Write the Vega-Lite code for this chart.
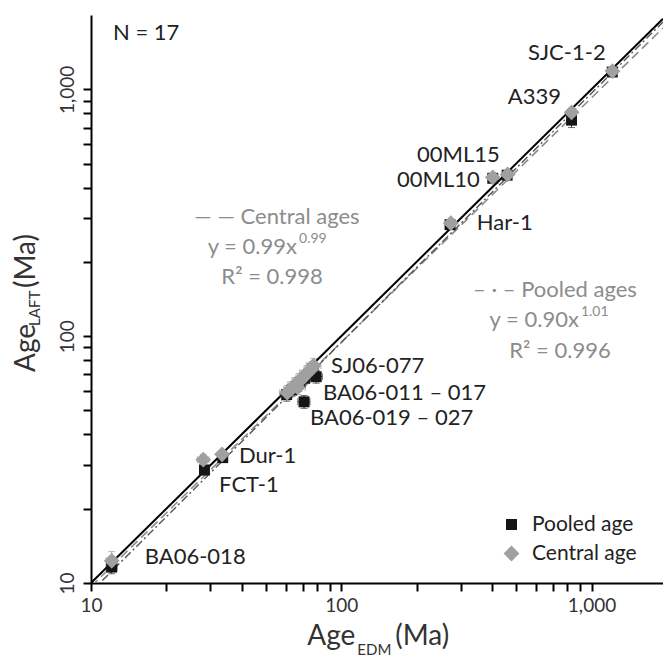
{
  "$schema": "https://vega.github.io/schema/vega-lite/v6.json",
  "width": 572,
  "height": 568,
  "autosize": {"type": "none"},
  "padding": {"left": 91, "top": 15, "right": 0, "bottom": 76},
  "background": "white",
  "config": {
    "view": {"stroke": null},
    "font": "Lato",
    "text": {"font": "Lato"},
    "axisLeft": {"labelAngle": 270}
  },
  "datasets": {
    "pts": [
      {"sample": "BA06-018", "type": "Pooled age", "edm": 12.1, "laft": 11.6, "edm_lo": 11.5, "edm_hi": 12.7, "laft_lo": 10.9, "laft_hi": 12.4},
      {"sample": "FCT-1", "type": "Pooled age", "edm": 28.4, "laft": 28.7, "edm_lo": 27.3, "edm_hi": 29.5, "laft_lo": 27.4, "laft_hi": 30.0},
      {"sample": "Dur-1", "type": "Pooled age", "edm": 33.6, "laft": 32.2, "edm_lo": 32.6, "edm_hi": 34.6, "laft_lo": 31.2, "laft_hi": 33.2},
      {"sample": "BA06-011", "type": "Pooled age", "edm": 60.5, "laft": 58.0, "edm_lo": 57.0, "edm_hi": 64.0, "laft_lo": 54.5, "laft_hi": 61.5},
      {"sample": "BA06-013", "type": "Pooled age", "edm": 63.5, "laft": 60.5, "edm_lo": 60.0, "edm_hi": 67.0, "laft_lo": 57.0, "laft_hi": 64.0},
      {"sample": "BA06-015", "type": "Pooled age", "edm": 66.0, "laft": 62.5, "edm_lo": 62.0, "edm_hi": 70.0, "laft_lo": 59.0, "laft_hi": 66.0},
      {"sample": "BA06-017", "type": "Pooled age", "edm": 79.4, "laft": 68.5, "edm_lo": 75.0, "edm_hi": 84.0, "laft_lo": 64.5, "laft_hi": 72.5},
      {"sample": "BA06-019", "type": "Pooled age", "edm": 71.0, "laft": 54.2, "edm_lo": 67.0, "edm_hi": 75.0, "laft_lo": 51.0, "laft_hi": 57.5},
      {"sample": "BA06-021", "type": "Pooled age", "edm": 68.5, "laft": 65.0, "edm_lo": 64.5, "edm_hi": 72.5, "laft_lo": 61.5, "laft_hi": 68.5},
      {"sample": "BA06-025", "type": "Pooled age", "edm": 71.5, "laft": 67.5, "edm_lo": 67.5, "edm_hi": 75.5, "laft_lo": 64.0, "laft_hi": 71.0},
      {"sample": "BA06-027", "type": "Pooled age", "edm": 74.0, "laft": 70.0, "edm_lo": 70.0, "edm_hi": 78.0, "laft_lo": 66.5, "laft_hi": 73.5},
      {"sample": "SJ06-077", "type": "Pooled age", "edm": 77.0, "laft": 74.0, "edm_lo": 73.0, "edm_hi": 81.0, "laft_lo": 70.0, "laft_hi": 78.0},
      {"sample": "Har-1", "type": "Pooled age", "edm": 272, "laft": 283, "edm_lo": 265, "edm_hi": 279, "laft_lo": 276, "laft_hi": 290},
      {"sample": "00ML10", "type": "Pooled age", "edm": 403, "laft": 436, "edm_lo": 392, "edm_hi": 414, "laft_lo": 425, "laft_hi": 447},
      {"sample": "00ML15", "type": "Pooled age", "edm": 460, "laft": 449, "edm_lo": 448, "edm_hi": 472, "laft_lo": 437, "laft_hi": 461},
      {"sample": "A339", "type": "Pooled age", "edm": 832, "laft": 750, "edm_lo": 810, "edm_hi": 855, "laft_lo": 700, "laft_hi": 800},
      {"sample": "SJC-1-2", "type": "Pooled age", "edm": 1210, "laft": 1175, "edm_lo": 1180, "edm_hi": 1240, "laft_lo": 1145, "laft_hi": 1205},
      {"sample": "BA06-018", "type": "Central age", "edm": 12.1, "laft": 12.3, "edm_lo": 11.5, "edm_hi": 12.7, "laft_lo": 11.3, "laft_hi": 13.4},
      {"sample": "FCT-1", "type": "Central age", "edm": 28.1, "laft": 31.6, "edm_lo": 26.6, "edm_hi": 29.6, "laft_lo": 30.0, "laft_hi": 33.2},
      {"sample": "Dur-1", "type": "Central age", "edm": 33.4, "laft": 33.2, "edm_lo": 32.4, "edm_hi": 34.4, "laft_lo": 32.2, "laft_hi": 34.2},
      {"sample": "BA06-011", "type": "Central age", "edm": 60.8, "laft": 59.0, "edm_lo": 56.8, "edm_hi": 65.0, "laft_lo": 55.0, "laft_hi": 63.0},
      {"sample": "BA06-013", "type": "Central age", "edm": 63.0, "laft": 61.0, "edm_lo": 59.0, "edm_hi": 67.4, "laft_lo": 57.0, "laft_hi": 65.3},
      {"sample": "BA06-015", "type": "Central age", "edm": 65.5, "laft": 63.5, "edm_lo": 61.2, "edm_hi": 70.0, "laft_lo": 59.3, "laft_hi": 68.0},
      {"sample": "BA06-017", "type": "Central age", "edm": 68.0, "laft": 66.0, "edm_lo": 63.5, "edm_hi": 72.8, "laft_lo": 61.7, "laft_hi": 70.6},
      {"sample": "BA06-019", "type": "Central age", "edm": 70.5, "laft": 68.0, "edm_lo": 65.9, "edm_hi": 75.4, "laft_lo": 63.6, "laft_hi": 72.8},
      {"sample": "BA06-021", "type": "Central age", "edm": 73.0, "laft": 71.0, "edm_lo": 68.2, "edm_hi": 78.1, "laft_lo": 66.4, "laft_hi": 76.0},
      {"sample": "BA06-025", "type": "Central age", "edm": 76.0, "laft": 73.5, "edm_lo": 71.0, "edm_hi": 81.3, "laft_lo": 68.7, "laft_hi": 78.6},
      {"sample": "BA06-027", "type": "Central age", "edm": 67.0, "laft": 62.0, "edm_lo": 62.6, "edm_hi": 71.7, "laft_lo": 58.0, "laft_hi": 66.3},
      {"sample": "SJ06-077", "type": "Central age", "edm": 77.5, "laft": 76.0, "edm_lo": 72.4, "edm_hi": 82.9, "laft_lo": 71.0, "laft_hi": 81.3},
      {"sample": "Har-1", "type": "Central age", "edm": 274, "laft": 287, "edm_lo": 266, "edm_hi": 282, "laft_lo": 279, "laft_hi": 295},
      {"sample": "00ML10", "type": "Central age", "edm": 403, "laft": 440, "edm_lo": 391, "edm_hi": 415, "laft_lo": 428, "laft_hi": 452},
      {"sample": "00ML15", "type": "Central age", "edm": 462, "laft": 452, "edm_lo": 449, "edm_hi": 475, "laft_lo": 440, "laft_hi": 465},
      {"sample": "A339", "type": "Central age", "edm": 832, "laft": 806, "edm_lo": 808, "edm_hi": 856, "laft_lo": 780, "laft_hi": 832},
      {"sample": "SJC-1-2", "type": "Central age", "edm": 1212, "laft": 1185, "edm_lo": 1180, "edm_hi": 1245, "laft_lo": 1150, "laft_hi": 1220}
    ],
    "fits": [
      {"series": "1:1", "edm": 10, "laft": 10},
      {"series": "1:1", "edm": 1930, "laft": 1930},
      {"series": "Central", "edm": 10, "laft": 9.675},
      {"series": "Central", "edm": 1930, "laft": 1771.5},
      {"series": "Pooled", "edm": 10, "laft": 9.21},
      {"series": "Pooled", "edm": 1930, "laft": 1873.5}
    ],
    "labels": [
      {"text": "SJC-1-2", "edm": 557, "laft": 1403},
      {"text": "A339", "edm": 463, "laft": 931},
      {"text": "00ML15", "edm": 200.6, "laft": 542},
      {"text": "00ML10", "edm": 166.9, "laft": 429},
      {"text": "Har-1", "edm": 348, "laft": 287},
      {"text": "SJ06-077", "edm": 91, "laft": 75.7},
      {"text": "BA06-011 – 017", "edm": 84.5, "laft": 58.9},
      {"text": "BA06-019 – 027", "edm": 75.0, "laft": 46.6},
      {"text": "Dur-1", "edm": 39.0, "laft": 32.7},
      {"text": "FCT-1", "edm": 32.5, "laft": 24.9},
      {"text": "BA06-018", "edm": 16.4, "laft": 12.7},
      {"text": "N = 17", "edm": 12.24, "laft": 1691}
    ],
    "notesC": [
      {"text": "— —  Central ages", "edm": 55.35, "laft": 303.9},
      {"text": "R² = 0.998", "edm": 52.9, "laft": 173.6},
      {"text": "– · –  Pooled ages", "edm": 714, "laft": 153.8},
      {"text": "R² = 0.996", "edm": 748, "laft": 87.1}
    ],
    "notesR": [
      {"text": "y = 0.99x", "edm": 66.5, "laft": 229.7},
      {"text": "y = 0.90x", "edm": 890, "laft": 116.3}
    ],
    "sups": [
      {"text": "0.99", "edm": 67.8, "laft": 229.7},
      {"text": "1.01", "edm": 907, "laft": 116.3}
    ],
    "titleBigL": [
      {"text": "(Ma)", "edm": 164.4, "laft": 6.04}
    ],
    "titleBigR": [
      {"text": "Age", "edm": 113.8, "laft": 6.04}
    ],
    "titleSub": [
      {"text": "EDM", "edm": 115.9, "laft": 5.35}
    ],
    "ytitleBig": [
      {"text": "Age", "edm": 5.55, "laft": 71.6},
      {"text": "(Ma)", "edm": 5.55, "laft": 156.8}
    ],
    "ytitleSub": [
      {"text": "LAFT", "edm": 5.97, "laft": 110}
    ]
  },
  "layer": [
    {
      "data": {"name": "fits"},
      "transform": [{"filter": "datum.series === '1:1'"}],
      "mark": {"type": "line", "color": "#000000", "strokeWidth": 2, "clip": true},
      "encoding": {
        "x": {
          "field": "edm", "type": "quantitative", "title": null,
          "scale": {"type": "log", "domain": [10, 1930], "nice": false},
          "axis": {
            "orient": "bottom",
            "values": [10, 20, 30, 40, 50, 60, 70, 80, 90, 100, 200, 300, 400, 500, 600, 700, 800, 900, 1000],
            "labelExpr": "(datum.value == 10 || datum.value == 100 || datum.value == 1000) ? format(datum.value, ',') : ''",
            "title": null, "grid": false,
            "domainColor": "#000000", "domainWidth": 2,
            "tickColor": "#000000", "tickWidth": 2, "tickSize": 8,
            "labelFontSize": 19, "labelFont": "Lato", "labelColor": "#333333",
            "labelPadding": 5, "labelFlush": false, "labelOverlap": false
          }
        },
        "y": {
          "field": "laft", "type": "quantitative", "title": null,
          "scale": {"type": "log", "domain": [10, 2000], "nice": false},
          "axis": {
            "orient": "left",
            "values": [10, 20, 30, 40, 50, 60, 70, 80, 90, 100, 200, 300, 400, 500, 600, 700, 800, 900, 1000],
            "labelExpr": "(datum.value == 10 || datum.value == 100 || datum.value == 1000) ? format(datum.value, ',') : ''",
            "title": null, "grid": false,
            "domainColor": "#000000", "domainWidth": 2,
            "tickColor": "#000000", "tickWidth": 2, "tickSize": 8,
            "labelFontSize": 19, "labelFont": "Lato", "labelColor": "#333333",
            "labelAngle": 270,
            "labelPadding": 6, "labelFlush": false, "labelOverlap": false,
            "encode": {
              "labels": {
                "update": {
                  "angle": {"value": 270},
                  "align": {"value": "center"},
                  "baseline": {"value": "bottom"}
                }
              }
            }
          }
        }
      }
    },
    {
      "data": {"name": "fits"},
      "transform": [{"filter": "datum.series === 'Central'"}],
      "mark": {"type": "line", "color": "#8c8c8c", "strokeWidth": 1.6, "strokeDash": [9, 5], "clip": true},
      "encoding": {
        "x": {"field": "edm", "type": "quantitative", "title": null},
        "y": {"field": "laft", "type": "quantitative", "title": null}
      }
    },
    {
      "data": {"name": "fits"},
      "transform": [{"filter": "datum.series === 'Pooled'"}],
      "mark": {"type": "line", "color": "#555555", "strokeWidth": 1.4, "strokeDash": [8, 3, 2, 3], "clip": true},
      "encoding": {
        "x": {"field": "edm", "type": "quantitative", "title": null},
        "y": {"field": "laft", "type": "quantitative", "title": null}
      }
    },
    {
      "mark": {"type": "rule", "color": "#000000", "strokeWidth": 2},
      "encoding": {"y": {"datum": 2000}}
    },
    {
      "data": {"name": "pts"},
      "transform": [{"filter": "datum.type === 'Pooled age'"}],
      "mark": {"type": "errorbar", "ticks": {"size": 7}, "color": "#333333", "thickness": 1},
      "encoding": {
        "x": {"field": "edm", "type": "quantitative", "title": null},
        "y": {"field": "laft_lo", "type": "quantitative", "title": null},
        "y2": {"field": "laft_hi"}
      }
    },
    {
      "data": {"name": "pts"},
      "transform": [{"filter": "datum.type === 'Pooled age'"}],
      "mark": {"type": "errorbar", "ticks": {"size": 7}, "color": "#333333", "thickness": 1},
      "encoding": {
        "y": {"field": "laft", "type": "quantitative", "title": null},
        "x": {"field": "edm_lo", "type": "quantitative", "title": null},
        "x2": {"field": "edm_hi"}
      }
    },
    {
      "data": {"name": "pts"},
      "transform": [{"filter": "datum.type === 'Central age'"}],
      "mark": {"type": "errorbar", "ticks": {"size": 7}, "color": "#999999", "thickness": 1},
      "encoding": {
        "x": {"field": "edm", "type": "quantitative", "title": null},
        "y": {"field": "laft_lo", "type": "quantitative", "title": null},
        "y2": {"field": "laft_hi"}
      }
    },
    {
      "data": {"name": "pts"},
      "transform": [{"filter": "datum.type === 'Central age'"}],
      "mark": {"type": "errorbar", "ticks": {"size": 7}, "color": "#999999", "thickness": 1},
      "encoding": {
        "y": {"field": "laft", "type": "quantitative", "title": null},
        "x": {"field": "edm_lo", "type": "quantitative", "title": null},
        "x2": {"field": "edm_hi"}
      }
    },
    {
      "data": {"name": "pts"},
      "mark": {"type": "point", "filled": true, "opacity": 1, "strokeWidth": 0},
      "encoding": {
        "x": {"field": "edm", "type": "quantitative", "title": null},
        "y": {"field": "laft", "type": "quantitative", "title": null},
        "color": {
          "field": "type", "type": "nominal",
          "scale": {"domain": ["Pooled age", "Central age"], "range": ["#151515", "#a0a0a0"]},
          "legend": {
            "title": null, "orient": "none", "legendX": 410, "legendY": 499,
            "labelFontSize": 21, "labelFont": "Lato", "labelColor": "#222222",
            "symbolSize": 200, "rowPadding": 7, "labelOffset": 10, "padding": 0,
            "symbolStrokeWidth": 0
          }
        },
        "shape": {
          "field": "type", "type": "nominal",
          "scale": {"domain": ["Pooled age", "Central age"], "range": ["square", "diamond"]}
        },
        "size": {
          "field": "type", "type": "nominal",
          "scale": {"domain": ["Pooled age", "Central age"], "range": [120, 250]},
          "legend": null
        }
      }
    },
    {
      "data": {"name": "labels"},
      "mark": {"type": "text", "align": "left", "baseline": "middle", "fontSize": 22, "color": "#222222"},
      "encoding": {
        "x": {"field": "edm", "type": "quantitative", "title": null},
        "y": {"field": "laft", "type": "quantitative", "title": null},
        "text": {"field": "text"}
      }
    },
    {
      "data": {"name": "notesC"},
      "mark": {"type": "text", "align": "center", "baseline": "middle", "fontSize": 22, "color": "#8c8c8c"},
      "encoding": {
        "x": {"field": "edm", "type": "quantitative", "title": null},
        "y": {"field": "laft", "type": "quantitative", "title": null},
        "text": {"field": "text"}
      }
    },
    {
      "data": {"name": "notesR"},
      "mark": {"type": "text", "align": "right", "baseline": "middle", "fontSize": 22, "color": "#8c8c8c"},
      "encoding": {
        "x": {"field": "edm", "type": "quantitative", "title": null},
        "y": {"field": "laft", "type": "quantitative", "title": null},
        "text": {"field": "text"}
      }
    },
    {
      "data": {"name": "sups"},
      "mark": {"type": "text", "align": "left", "baseline": "middle", "fontSize": 14, "dy": -8, "color": "#8c8c8c"},
      "encoding": {
        "x": {"field": "edm", "type": "quantitative", "title": null},
        "y": {"field": "laft", "type": "quantitative", "title": null},
        "text": {"field": "text"}
      }
    },
    {
      "data": {"name": "titleBigR"},
      "mark": {"type": "text", "align": "right", "baseline": "middle", "fontSize": 28, "color": "#333333"},
      "encoding": {
        "x": {"field": "edm", "type": "quantitative", "title": null},
        "y": {"field": "laft", "type": "quantitative", "title": null},
        "text": {"field": "text"}
      }
    },
    {
      "data": {"name": "titleBigL"},
      "mark": {"type": "text", "align": "left", "baseline": "middle", "fontSize": 28, "color": "#333333"},
      "encoding": {
        "x": {"field": "edm", "type": "quantitative", "title": null},
        "y": {"field": "laft", "type": "quantitative", "title": null},
        "text": {"field": "text"}
      }
    },
    {
      "data": {"name": "titleSub"},
      "mark": {"type": "text", "align": "left", "baseline": "middle", "fontSize": 15, "color": "#333333"},
      "encoding": {
        "x": {"field": "edm", "type": "quantitative", "title": null},
        "y": {"field": "laft", "type": "quantitative", "title": null},
        "text": {"field": "text"}
      }
    },
    {
      "data": {"name": "ytitleBig"},
      "mark": {"type": "text", "align": "left", "baseline": "middle", "angle": 270, "fontSize": 28, "color": "#333333"},
      "encoding": {
        "x": {"field": "edm", "type": "quantitative", "title": null},
        "y": {"field": "laft", "type": "quantitative", "title": null},
        "text": {"field": "text"}
      }
    },
    {
      "data": {"name": "ytitleSub"},
      "mark": {"type": "text", "align": "left", "baseline": "middle", "angle": 270, "fontSize": 15, "color": "#333333"},
      "encoding": {
        "x": {"field": "edm", "type": "quantitative", "title": null},
        "y": {"field": "laft", "type": "quantitative", "title": null},
        "text": {"field": "text"}
      }
    }
  ]
}
